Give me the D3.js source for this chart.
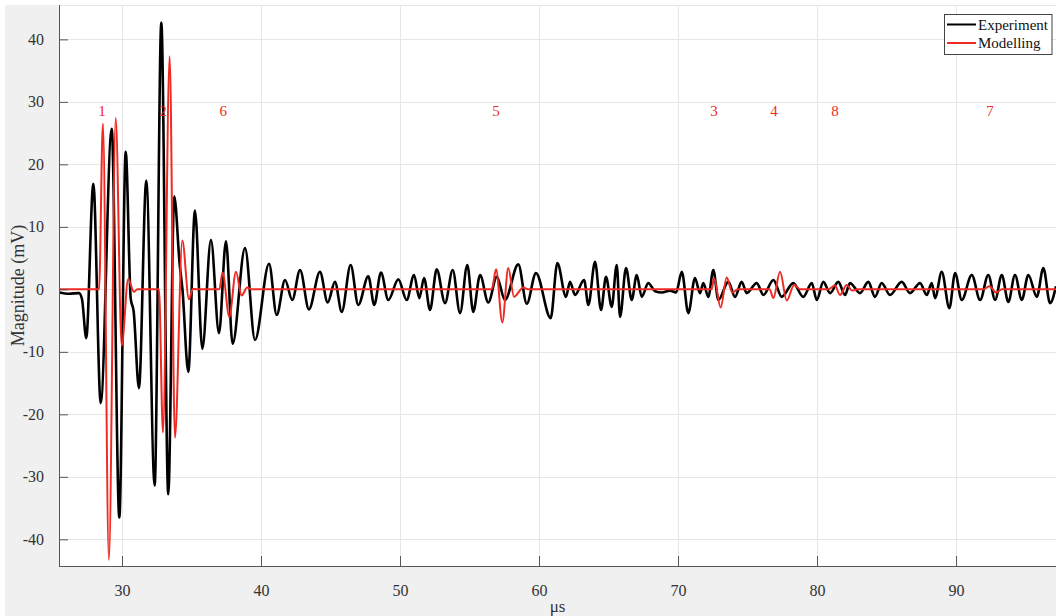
<!DOCTYPE html>
<html>
<head>
<meta charset="utf-8">
<script src="https://cdn.jsdelivr.net/npm/d3@7"></script>
<style>
  html, body { margin: 0; padding: 0; background: #ffffff; }
  svg { display: block; }
  text { font-family: "Liberation Serif", "Times New Roman", serif; }
</style>
</head>
<body>
<svg id="chart" width="1056" height="616"></svg>
<script>
// ---------------- DATA ----------------
const expT = [25.47, 26.2, 26.91, 27.12, 27.43, 27.94, 28.47, 29.26, 29.81, 30.27, 30.63, 30.84, 31.22, 31.75, 32.35, 32.83, 33.33, 33.76, 34.15, 34.35, 34.77, 35.25, 35.78, 36.40, 36.98, 37.48, 37.96, 38.85, 39.57, 40.58,
  41.13, 41.73, 42.25, 42.81, 43.45, 44.24, 44.80, 45.32, 45.81, 46.45, 47.00, 47.72, 48.15, 48.63, 49.16, 49.88, 50.48, 51.01, 51.39, 51.73, 52.16, 52.64, 53.24, 53.79, 54.32, 54.84, 55.27, 55.76, 56.35, 56.96, 57.55, 58.51, 59.12, 59.78,
  60.84, 61.32, 61.94, 62.23, 62.59, 63.24, 63.55, 64.03, 64.46, 64.82, 65.23, 65.59, 65.83, 66.26, 66.67, 67.03, 67.39, 67.86, 68.35, 68.85, 69.42, 69.86,
  70.27, 70.74, 71.22, 71.58, 71.82, 72.18, 72.54, 72.90, 73.62, 74.10, 74.58, 74.94, 75.66, 76.14, 76.86, 77.46, 78.29, 79.01, 79.62, 79.98,
  80.45, 80.94, 81.53, 82.01, 82.37, 83.09, 83.69, 84.17, 84.65, 85.25, 86.09, 86.69, 87.41, 87.89, 88.25, 88.49, 88.97, 89.52, 89.93,
  90.41, 91.13, 91.73, 92.32, 92.81, 93.29, 93.76, 94.24, 94.73, 95.20, 95.81, 96.28, 96.76, 97.19];
const expV = [-0.5, -0.7, -0.6, -1.5, -7.8, 16.9, -18.2, 25.7, -36.5, 22.0, -1.5, -3.5, -15.8, 17.4, -31.4, 42.7, -32.8, 14.9, 4.0, 0.0, -13.2, 12.6, -9.5, 7.9, -7.0, 7.7, -8.7, 6.6, -8.1, 4.1,
  -4.1, 1.5, -1.7, 3.1, -3.2, 2.8, -2.1, 1.2, -3.6, 3.9, -2.5, 2.1, -2.5, 2.7, -1.7, 1.6, -1.7, 2.3, -1.4, 1.8, -3.3, 3.2, -2.2, 3.1, -3.8, 3.9, -3.6, 2.3, -2.1, 2.0, -1.7, 4.0, -2.3, 2.6,
  -4.6, 4.2, -1.2, 1.2, -0.9, 1.5, -2.5, 4.4, -3.3, 2.0, -2.8, 3.9, -4.4, 3.4, -1.7, 2.3, -1.2, 1.0, -0.3, -0.5, -0.2, -0.5,
  2.8, -3.8, 1.8, -0.6, 1.0, -1.2, 3.1, -1.7, 1.2, -1.2, 1.2, -0.6, 1.0, -0.9, 1.5, -1.2, 1.0, -1.2, 1.0, -1.7,
  1.2, -0.6, 1.2, -0.9, 1.0, -0.6, 1.2, -1.2, 1.0, -0.9, 1.2, -0.6, 1.0, -0.9, 1.0, -1.4, 2.8, -3.0, 2.6,
  -1.7, 2.3, -1.7, 2.3, -1.7, 2.3, -2.0, 2.3, -1.7, 2.3, -1.2, 3.4, -2.2, 0.5];

const modT = [25.47, 28.35, 28.63, 29.06, 29.55, 29.98, 30.45, 30.86, 31.1,
  32.66, 32.95, 33.43, 33.81, 34.34, 34.82, 35.1, 35.4,
  37.0, 37.24, 37.72, 38.20, 38.61, 39.01, 39.3,
  56.60, 56.91, 57.36, 57.79, 58.20, 58.87, 59.2,
  72.42, 72.59, 73.07, 73.50, 73.91, 74.3,
  76.58, 76.86, 77.34, 77.82, 78.35, 78.8,
  80.79, 81.29, 81.65, 82.13, 82.52, 82.9,
  91.97, 92.40, 92.88, 93.3, 97.19];
const modV = [0, 0, 26.5, -43.3, 27.4, -9.0, 1.65, -0.4, 0,
  0, -22.9, 37.3, -23.75, 7.8, -1.6, 0.1, 0,
  0, 2.7, -4.4, 2.8, -1.0, 0.3, 0,
  0, 3.2, -5.3, 3.4, -1.2, 0.3, 0,
  0, 1.8, -2.9, 1.9, -0.5, 0,
  0, -1.4, 2.8, -1.8, 0.7, 0,
  0, 0.6, -0.9, 0.7, -0.2, 0,
  0, 0.5, -0.5, 0, 0];

const labelNames = ["1", "2", "6", "5", "3", "4", "8", "7"];
const labelT = [28.56, 32.95, 37.29, 56.9, 72.59, 76.91, 81.29, 92.45];
const labelY = 28.6;

const xTicks = [30, 40, 50, 60, 70, 80, 90];
const yTicks = [-40, -30, -20, -10, 0, 10, 20, 30, 40];
const xDomain = [25.47, 97.19];
const yDomain = [-44.27, 45.5];
const seriesNames = ["Experiment", "Modelling"];

// ---------------- LAYOUT ----------------
const W = 1056, H = 616;
const mL = 59, mR = 1056, mT = 5, mB = 566;
const RED = "#ee2a22";
const svg = d3.select("#chart");

svg.append("rect").attr("x", 5).attr("y", 5).attr("width", W - 5).attr("height", H - 5).attr("fill", "#f0f0f0");
svg.append("rect").attr("x", mL).attr("y", mT).attr("width", mR - mL).attr("height", mB - mT).attr("fill", "#ffffff");

const x = d3.scaleLinear().domain(xDomain).range([mL, mR]);
const y = d3.scaleLinear().domain(yDomain).range([mB, mT]);

// grid
const grid = svg.append("g").attr("stroke", "#e6e6e6").attr("stroke-width", 1);
grid.selectAll("line").data(xTicks).join("line")
  .attr("x1", d => Math.round(x(d)) + 0.5).attr("x2", d => Math.round(x(d)) + 0.5)
  .attr("y1", mT).attr("y2", mB);
const grid2 = svg.append("g").attr("stroke", "#e6e6e6").attr("stroke-width", 1);
grid2.selectAll("line").data(yTicks).join("line")
  .attr("y1", d => Math.round(y(d)) + 0.5).attr("y2", d => Math.round(y(d)) + 0.5)
  .attr("x1", mL).attr("x2", mR);
svg.append("line").attr("x1", mL).attr("x2", mR).attr("y1", mT + 0.5).attr("y2", mT + 0.5)
  .attr("stroke", "#e6e6e6");

// clip
svg.append("clipPath").attr("id", "clip").append("rect")
  .attr("x", mL).attr("y", mT).attr("width", mR - mL).attr("height", mB - mT);

const lineExp = d3.line().x((d, i) => x(expT[i])).y((d, i) => y(expV[i])).curve(d3.curveMonotoneX);
const lineMod = d3.line().x((d, i) => x(modT[i])).y((d, i) => y(modV[i])).curve(d3.curveMonotoneX);

const plot = svg.append("g").attr("clip-path", "url(#clip)");
plot.append("path").datum(expV).attr("d", lineExp)
  .attr("fill", "none").attr("stroke", "#000").attr("stroke-width", 2.6).attr("stroke-linejoin", "round");
plot.append("path").datum(modV).attr("d", lineMod)
  .attr("fill", "none").attr("stroke", RED).attr("stroke-width", 2).attr("stroke-linejoin", "round");

// labels
svg.append("g").selectAll("text").data(labelNames).join("text")
  .attr("x", (d, i) => x(labelT[i])).attr("y", y(labelY))
  .attr("text-anchor", "middle").attr("dominant-baseline", "central")
  .attr("fill", RED).attr("font-size", 15).text(d => d);

// axes
const fmt = d => String(d);
const xAxis = d3.axisBottom(x).tickValues(xTicks).tickSize(-10).tickPadding(19).tickFormat(fmt);
const yAxis = d3.axisLeft(y).tickValues(yTicks).tickSize(-9).tickPadding(15).tickFormat(fmt);

const gx = svg.append("g").attr("transform", `translate(0,${mB})`).call(xAxis);
const gy = svg.append("g").attr("transform", `translate(${mL},0)`).call(yAxis);
[gx, gy].forEach(g => {
  g.select(".domain").remove();
  g.selectAll(".tick line").attr("stroke", "#555").attr("stroke-width", 1);
  g.selectAll(".tick text").attr("fill", "#333").attr("font-size", 16)
    .attr("font-family", "Liberation Serif, Times New Roman, serif");
});
svg.append("line").attr("x1", mL + 0.5).attr("x2", mL + 0.5).attr("y1", mT).attr("y2", mB)
  .attr("stroke", "#555");
svg.append("line").attr("x1", mL).attr("x2", mR).attr("y1", mB + 0.5).attr("y2", mB + 0.5)
  .attr("stroke", "#555");

// axis labels
svg.append("text").attr("x", (mL + mR) / 2).attr("y", 606).attr("text-anchor", "middle")
  .attr("dominant-baseline", "central").attr("font-size", 17).attr("fill", "#333").text("μs");
svg.append("text").attr("transform", `translate(18,${(mT + mB) / 2}) rotate(-90)`)
  .attr("text-anchor", "middle").attr("dominant-baseline", "central")
  .attr("font-size", 18).attr("fill", "#333").text("Magnitude (mV)");

// legend
const lg = svg.append("g");
lg.append("rect").attr("x", 944.5).attr("y", 14.5).attr("width", 107.5).attr("height", 40)
  .attr("fill", "#fff").attr("stroke", "#444").attr("stroke-width", 1);
const legendColors = ["#000", RED];
seriesNames.forEach((name, i) => {
  const ly = 24.5 + i * 18.5;
  lg.append("line").attr("x1", 947).attr("x2", 976).attr("y1", ly).attr("y2", ly)
    .attr("stroke", legendColors[i]).attr("stroke-width", 2);
  lg.append("text").attr("x", 978).attr("y", ly).attr("dominant-baseline", "central")
    .attr("font-size", 15).attr("fill", "#111").text(name);
});
</script>
</body>
</html>
